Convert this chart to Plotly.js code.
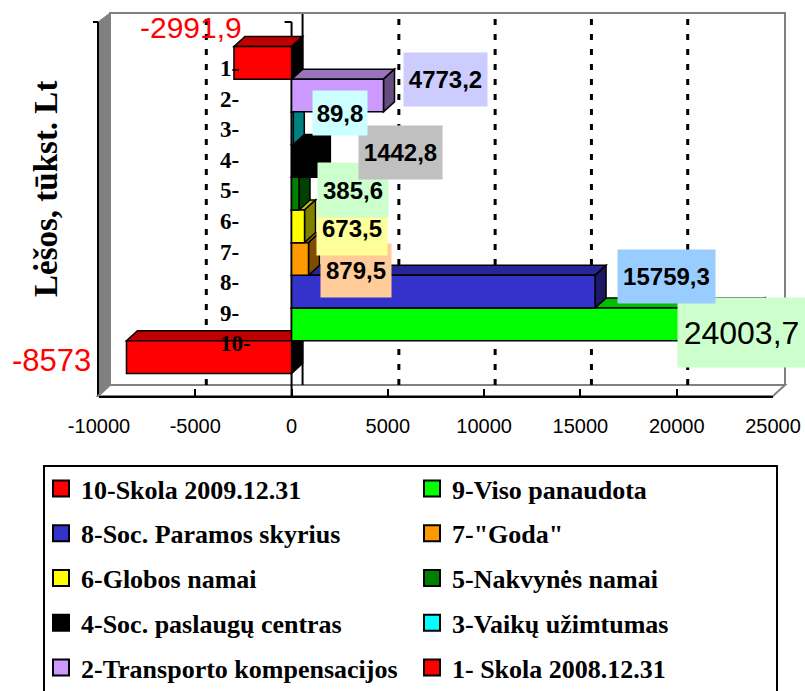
<!DOCTYPE html>
<html>
<head>
<meta charset="utf-8">
<script src="https://cdn.plot.ly/plotly-3.0.1.min.js"></script>
<style>html,body{margin:0;padding:0;background:#fff}#chart{width:805px;height:691px}</style>
</head>
<body>
<div id="chart"></div>
<script>
// ---- data ----
const categories = ["1-", "2-", "3-", "4-", "5-", "6-", "7-", "8-", "9-", "10-"];
const seriesNames = ["1- Skola 2008.12.31", "2-Transporto kompensacijos", "3-Vaikų užimtumas",
  "4-Soc. paslaugų centras", "5-Nakvynės namai", "6-Globos namai", '7-"Goda"',
  "8-Soc. Paramos skyrius", "9-Viso panaudota", "10-Skola 2009.12.31"];
const values = [-2991.9, 4773.2, 89.8, 1442.8, 385.6, 673.5, 879.5, 15759.3, 24003.7, -8573];
const xTicks = [-10000, -5000, 0, 5000, 10000, 15000, 20000, 25000];
const yTitle = "Lėšos, tūkst. Lt";

// ---- styles ----
const barColors = ["#FF0000", "#CC99FF", "#00FFFF", "#000000", "#008000", "#FFFF00", "#FF9900", "#3333CC", "#00FF00", "#FF0000"];
// label boxes: centre (px), size (px), background, font size, bold
const labelBoxes = [
  {cx: 191, cy: 27, w: 0, h: 0, bg: null, size: 30, bold: false, color: "#FF0000"},
  {cx: 445.5, cy: 79.5, w: 83, h: 53, bg: "#CCCCFF", size: 24, bold: true, color: "#000"},
  {cx: 340, cy: 113, w: 54, h: 44, bg: "#CCFFFF", size: 24, bold: true, color: "#000"},
  {cx: 400.5, cy: 152.5, w: 83, h: 53, bg: "#C0C0C0", size: 24, bold: true, color: "#000"},
  {cx: 353, cy: 190, w: 70, h: 54, bg: "#CCFFCC", size: 24, bold: true, color: "#000"},
  {cx: 352, cy: 228.5, w: 70, h: 53, bg: "#FFFF99", size: 24, bold: true, color: "#000"},
  {cx: 356, cy: 270.5, w: 70, h: 53, bg: "#FFCC99", size: 24, bold: true, color: "#000"},
  {cx: 666.5, cy: 276.5, w: 97, h: 53, bg: "#99CCFF", size: 24, bold: true, color: "#000"},
  {cx: 741.5, cy: 332.5, w: 127, h: 69, bg: "#CCFFCC", size: 32, bold: false, color: "#000"},
  {cx: 52, cy: 360, w: 0, h: 0, bg: null, size: 31, bold: false, color: "#FF0000"}
];

// ---- geometry ----
const W = 805, H = 691, ML = 99, MR = 32, MT = 14, MB = 295;
const PW = W - ML - MR, PH = H - MT - MB;
const px2x = p => (p - ML) / PW;
const py2y = p => 1 - (p - MT) / PH;
const xRange = [-10000, 25000];
const slot = 32.7, firstCentre = 62.8;
const yRange = [(MT + PH - firstCentre) / slot, (MT - firstCentre) / slot];
const depthX = 11, depthY = 10;               // px
const dxU = depthX * (xRange[1] - xRange[0]) / PW;
const dyU = -depthY / slot;

function shade(hex, f) {
  const n = parseInt(hex.slice(1), 16);
  const r = Math.round(((n >> 16) & 255) * f), g = Math.round(((n >> 8) & 255) * f), b = Math.round((n & 255) * f);
  return "rgb(" + r + "," + g + "," + b + ")";
}
function fmt(v) {
  return Number.isInteger(v) ? String(v) : v.toFixed(1).replace(".", ",");
}

// ---- traces ----
const traces = [];
for (let i = values.length - 1; i >= 0; i--) {
  traces.push({
    type: "bar", orientation: "h",
    x: [values[i]], y: [i], width: [1],
    name: seriesNames[i], showlegend: false,
    marker: {color: barColors[i], line: {color: "#000", width: 1.5}},
    hoverinfo: "name+x"
  });
}
// legend entries (square swatches like the original)
for (let i = values.length - 1; i >= 0; i--) {
  traces.push({
    type: "scatter", mode: "markers", x: [null], y: [null],
    name: seriesNames[i],
    legend: (i % 2 === 1) ? "legend" : "legend2",
    legendgroup: "g" + i,
    marker: {symbol: "square", size: 16, color: barColors[i], line: {color: "#000", width: 2}},
    hoverinfo: "skip"
  });
}
traces.push({type: "scatter", x: [null], y: [null], yaxis: "y2", mode: "markers", showlegend: false, hoverinfo: "skip"});

// ---- shapes ----
const shapes = [];
const grey = "#808080";
// back wall
shapes.push({type: "rect", xref: "paper", yref: "paper", layer: "below",
  x0: px2x(ML + depthX), x1: px2x(ML + PW + depthX + 1), y0: py2y(MT + PH - depthY - 1), y1: py2y(MT - 1),
  fillcolor: "#FFFFFF", line: {color: grey, width: 2}});
// left wall
shapes.push({type: "path", xref: "paper", yref: "paper", layer: "below",
  path: "M" + px2x(ML - 1) + "," + py2y(22) + " L" + px2x(ML + depthX) + "," + py2y(13) +
        " L" + px2x(ML + depthX) + "," + py2y(MT + PH - depthY - 1) + " L" + px2x(ML - 1) + "," + py2y(MT + PH) + " Z",
  fillcolor: grey, line: {color: grey, width: 1}});
shapes.push({type: "line", xref: "paper", yref: "paper", layer: "below",
  x0: px2x(ML - 1), x1: px2x(ML - 1), y0: py2y(22), y1: py2y(MT + PH), line: {color: "#000", width: 2}});
shapes.push({type: "line", xref: "paper", yref: "paper", layer: "below",
  x0: px2x(ML - 6), x1: px2x(ML - 1), y0: py2y(22), y1: py2y(22), line: {color: "#000", width: 2}});
// floor
shapes.push({type: "path", xref: "paper", yref: "paper", layer: "below",
  path: "M" + px2x(ML - 1) + "," + py2y(MT + PH) + " L" + px2x(ML + depthX) + "," + py2y(MT + PH - depthY - 1) +
        " L" + px2x(ML + PW + depthX + 1) + "," + py2y(MT + PH - depthY - 1) + " L" + px2x(ML + PW) + "," + py2y(MT + PH) + " Z",
  fillcolor: "#FFFFFF", line: {color: grey, width: 2}});
// grid lines on back wall
xTicks.forEach(t => {
  if (t === xRange[0] || t === xRange[1]) return;
  shapes.push({type: "line", xref: "x", yref: "paper", layer: "below",
    x0: t + dxU, x1: t + dxU, y0: py2y(MT + PH - depthY - 1), y1: py2y(MT),
    line: {color: "#000", width: t === 0 ? 2 : 3, dash: t === 0 ? "solid" : "6px,9px"}});
});
// category axis line at 0 (front) with its top tick
shapes.push({type: "line", xref: "x", yref: "paper", layer: "below",
  x0: 0, x1: 0, y0: py2y(22), y1: py2y(MT + PH), line: {color: "#000", width: 2}});
shapes.push({type: "line", xref: "x", yref: "paper", layer: "below",
  x0: -7 * (xRange[1] - xRange[0]) / PW, x1: 0, y0: py2y(22), y1: py2y(22), line: {color: "#000", width: 2}});
// 3D faces of the bars, bottom bar first
for (let i = values.length - 1; i >= 0; i--) {
  const v = values[i];
  const top = i - 0.5, bot = i + 0.5;
  const xl = Math.min(0, v), xr = Math.max(0, v);
  const isRed = barColors[i] === "#FF0000";
  shapes.push({type: "path", xref: "x", yref: "y", layer: "below",
    path: "M" + xl + "," + top + " L" + xr + "," + top + " L" + (xr + dxU) + "," + (top + dyU) + " L" + (xl + dxU) + "," + (top + dyU) + " Z",
    fillcolor: shade(barColors[i], 0.75), line: {color: "#000", width: 1.5}});
  shapes.push({type: "path", xref: "x", yref: "y", layer: "below",
    path: "M" + xr + "," + top + " L" + (xr + dxU) + "," + (top + dyU) + " L" + (xr + dxU) + "," + (bot + dyU) + " L" + xr + "," + bot + " Z",
    fillcolor: isRed ? "#000000" : shade(barColors[i], 0.5), line: {color: "#000", width: 1.5}});
}
// legend frame
shapes.push({type: "rect", xref: "paper", yref: "paper", layer: "below",
  x0: px2x(44), x1: px2x(777), y0: py2y(705), y1: py2y(466),
  line: {color: "#000", width: 2}, fillcolor: "rgba(0,0,0,0)"});

// ---- annotations (value labels, 10 first so that 1 ends on top) ----
const annotations = [];
for (let i = values.length - 1; i >= 0; i--) {
  const b = labelBoxes[i];
  const a = {xref: "paper", yref: "paper", x: px2x(b.cx), y: py2y(b.cy), xanchor: "center", yanchor: "middle",
    showarrow: false, text: fmt(values[i]), borderpad: 0,
    font: {family: "Liberation Sans, Arial, sans-serif", size: b.size, color: b.color, weight: b.bold ? 700 : 400}};
  if (b.bg) { a.bgcolor = b.bg; a.width = b.w; a.height = b.h; }
  annotations.push(a);
}
annotations.push({xref: "paper", yref: "paper", x: px2x(46), y: py2y(189), xanchor: "center", yanchor: "middle",
  showarrow: false, textangle: -90, text: yTitle,
  font: {family: "Liberation Serif, Times New Roman, serif", size: 33, color: "#000", weight: 700}});

const legendFont = {family: "Liberation Serif, Times New Roman, serif", size: 26, color: "#000", weight: 700};
const layout = {
  width: W, height: H,
  margin: {l: ML, r: MR, t: MT, b: MB, pad: 0, autoexpand: false},
  paper_bgcolor: "#FFFFFF", plot_bgcolor: "rgba(0,0,0,0)",
  barmode: "overlay",
  showlegend: true,
  xaxis: {range: xRange, tickmode: "array", tickvals: xTicks, ticktext: xTicks.map(String),
    showgrid: false, zeroline: false, showline: true, linecolor: "#000", linewidth: 2,
    ticks: "inside", ticklen: 7, tickwidth: 2, tickcolor: "#000", ticklabelstandoff: 11,
    tickfont: {family: "Liberation Sans, Arial, sans-serif", size: 20, color: "#000"}, fixedrange: true},
  yaxis: {range: yRange, showticklabels: false, ticks: "", showgrid: false, zeroline: false, showline: false, fixedrange: true},
  yaxis2: {domain: [py2y(firstCentre + 5.2 - 15.3 + 306), py2y(firstCentre + 5.2 - 15.3)],
    anchor: "free", position: px2x(219), side: "right", range: [9.5, -0.5],
    tickmode: "array", tickvals: categories.map((c, k) => k), ticktext: categories,
    showline: false, ticks: "", showgrid: false, zeroline: false, fixedrange: true,
    tickfont: {family: "Liberation Serif, Times New Roman, serif", size: 23, color: "#000", weight: 700}},
  legend: {x: px2x(41), xanchor: "left", y: py2y(465), yanchor: "top", orientation: "v",
    bgcolor: "rgba(0,0,0,0)", borderwidth: 0, font: legendFont, tracegroupgap: 8, traceorder: "grouped"},
  legend2: {x: px2x(412), xanchor: "left", y: py2y(465), yanchor: "top", orientation: "v",
    bgcolor: "rgba(0,0,0,0)", borderwidth: 0, font: legendFont, tracegroupgap: 8, traceorder: "grouped"},
  shapes: shapes,
  annotations: annotations
};
Plotly.newPlot("chart", traces, layout, {displayModeBar: false, staticPlot: true});
</script>
</body>
</html>
